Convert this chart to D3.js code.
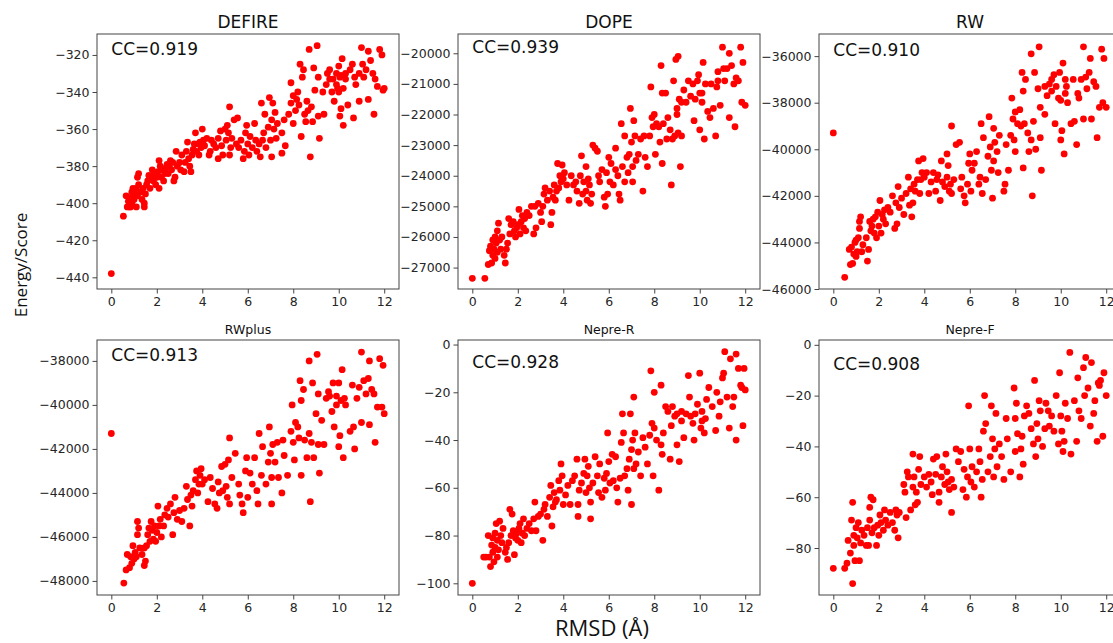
<!DOCTYPE html>
<html>
<head>
<meta charset="utf-8">
<script src="https://cdn.jsdelivr.net/npm/d3@7"></script>
<style>
  body { margin: 0; background: #fff; }
  .tick text { font-family: "DejaVu Sans", sans-serif; font-size: 12.5px; fill: #262626; }
  .tick line { stroke: #444; }
  .domain { stroke: none; }
</style>
</head>
<body>
<div id="chart"></div>
<script>
// RMSD (x) vs score (y) for each method
var defire = [[0,-438],[0.53,-407],[0.65,-396],[0.7,-402],[0.75,-399],[0.8,-402],[0.85,-397],[0.9,-394],[0.95,-392],[0.9,-400],[1.0,-398],[1.05,-395],[1.1,-402],[1.15,-396],[1.15,-386],[1.2,-384],[1.2,-390],[1.1,-392],[1.0,-393],[0.85,-402],[1.3,-394],[1.35,-398],[1.4,-392],[1.45,-400],[1.45,-402],[1.5,-395],[1.55,-390],[1.6,-388],[1.65,-385],[1.7,-392],[1.75,-386],[1.8,-382],[1.85,-388],[1.9,-384],[1.95,-390],[2.0,-386],[2.05,-383],[2.1,-377],[2.1,-392],[2.15,-380],[2.2,-386],[2.25,-382],[2.3,-388],[2.35,-384],[2.4,-381],[2.45,-379],[2.5,-384],[2.55,-380],[2.6,-377],[2.65,-382],[2.7,-378],[2.75,-388],[2.8,-386],[2.85,-372],[2.9,-380],[3.0,-378],[3.05,-382],[3.1,-374],[3.2,-383],[3.25,-378],[3.3,-372],[3.35,-367],[3.4,-376],[3.45,-380],[3.5,-383],[3.55,-374],[3.6,-371],[3.65,-368],[3.7,-362],[3.75,-372],[3.8,-368],[3.85,-374],[3.9,-367],[3.95,-370],[4.0,-360],[4.05,-366],[4.1,-369],[4.2,-365],[4.3,-374],[4.35,-372],[4.4,-366],[4.5,-368],[4.6,-370],[4.7,-376],[4.7,-365],[4.8,-361],[4.85,-369],[4.9,-374],[5.0,-360],[5.05,-366],[5.1,-358],[5.15,-362],[5.2,-348],[5.2,-374],[5.25,-370],[5.3,-365],[5.4,-355],[5.5,-368],[5.55,-354],[5.6,-370],[5.7,-366],[5.8,-376],[5.85,-372],[5.9,-362],[5.95,-358],[6.0,-368],[6.05,-374],[6.1,-364],[6.2,-370],[6.3,-357],[6.35,-366],[6.4,-372],[6.5,-368],[6.55,-375],[6.6,-346],[6.65,-366],[6.7,-362],[6.75,-352],[6.8,-370],[6.9,-359],[6.95,-343],[7.0,-366],[7.05,-375],[7.05,-355],[7.1,-346],[7.15,-360],[7.2,-351],[7.25,-365],[7.3,-357],[7.5,-373],[7.5,-362],[7.6,-355],[7.65,-369],[7.8,-352],[7.9,-335],[7.9,-346],[8.0,-342],[8.0,-357],[8.1,-350],[8.15,-344],[8.2,-340],[8.25,-347],[8.3,-325],[8.35,-364],[8.4,-332],[8.45,-328],[8.5,-352],[8.55,-356],[8.6,-345],[8.65,-350],[8.7,-317],[8.75,-375],[8.8,-348],[8.85,-356],[8.9,-327],[8.95,-339],[9.05,-315],[9.1,-353],[9.1,-332],[9.15,-365],[9.3,-340],[9.35,-352],[9.45,-336],[9.5,-330],[9.6,-328],[9.7,-340],[9.75,-333],[9.8,-345],[9.9,-330],[9.95,-338],[10.0,-326],[10.05,-332],[10.05,-353],[10.1,-349],[10.15,-322],[10.2,-338],[10.2,-358],[10.3,-333],[10.4,-347],[10.5,-328],[10.6,-325],[10.65,-354],[10.7,-332],[10.75,-336],[10.9,-345],[10.9,-330],[11.0,-316],[11.05,-325],[11.1,-332],[11.2,-328],[11.3,-344],[11.3,-318],[11.4,-323],[11.5,-330],[11.55,-352],[11.6,-333],[11.7,-337],[11.8,-317],[11.9,-320],[12.0,-338],[11.95,-339],[10.3,-330],[9.6,-333],[9.9,-336],[10.1,-331],[10.0,-340]];

var dope = [[0,-27350],[0.55,-27350],[0.7,-26900],[0.75,-26450],[0.8,-26300],[0.85,-26850],[0.9,-26600],[0.9,-26100],[0.95,-26400],[1.0,-26000],[1.0,-26700],[1.05,-26200],[1.1,-26500],[1.1,-25800],[1.15,-25550],[1.2,-26100],[1.25,-26400],[1.3,-26000],[1.4,-26600],[1.45,-26850],[1.5,-26400],[1.55,-26200],[1.6,-25400],[1.65,-25900],[1.7,-25600],[1.8,-25500],[1.85,-25800],[1.9,-26000],[1.95,-25700],[2.0,-25600],[2.05,-25100],[2.1,-25900],[2.15,-25500],[2.2,-25300],[2.25,-25700],[2.3,-25400],[2.35,-25800],[2.4,-25200],[2.5,-25300],[2.6,-25000],[2.7,-25900],[2.75,-25000],[2.8,-25700],[2.9,-24900],[3.0,-25200],[3.05,-25500],[3.1,-25000],[3.15,-24600],[3.2,-24400],[3.3,-24800],[3.4,-24500],[3.45,-25600],[3.5,-25200],[3.55,-24700],[3.6,-24300],[3.65,-24800],[3.7,-24500],[3.75,-23600],[3.8,-24400],[3.85,-24000],[3.9,-24200],[3.95,-23650],[4.0,-24100],[4.05,-23900],[4.15,-24300],[4.25,-24800],[4.35,-24000],[4.45,-24300],[4.55,-24200],[4.6,-24500],[4.7,-24900],[4.75,-24000],[4.8,-23350],[4.85,-24600],[4.9,-24200],[5.0,-23700],[5.0,-24500],[5.05,-24800],[5.1,-24100],[5.15,-24300],[5.2,-24900],[5.25,-24600],[5.3,-23000],[5.4,-23100],[5.5,-23200],[5.55,-24000],[5.6,-24200],[5.7,-23800],[5.8,-24700],[5.85,-25000],[5.9,-23900],[5.95,-24600],[6.0,-23400],[6.05,-24200],[6.1,-23600],[6.2,-24300],[6.3,-23800],[6.3,-23100],[6.4,-24000],[6.45,-24600],[6.5,-24800],[6.55,-22300],[6.6,-23700],[6.7,-22700],[6.7,-24200],[6.8,-23400],[6.85,-23900],[6.9,-23300],[6.95,-21800],[7.0,-22900],[7.05,-24200],[7.05,-23700],[7.1,-22200],[7.15,-22700],[7.2,-23500],[7.3,-23300],[7.4,-22800],[7.5,-24500],[7.55,-22700],[7.6,-23400],[7.7,-23700],[7.8,-22700],[7.85,-21100],[7.9,-22100],[7.95,-22400],[8.0,-22000],[8.05,-23300],[8.1,-22300],[8.2,-22400],[8.25,-22900],[8.3,-20400],[8.35,-21300],[8.35,-23600],[8.4,-22300],[8.5,-21300],[8.55,-22800],[8.6,-22100],[8.7,-22500],[8.75,-24300],[8.8,-22800],[8.85,-20900],[8.9,-22700],[8.95,-20200],[9.0,-21800],[9.05,-20100],[9.05,-22600],[9.1,-21500],[9.15,-23700],[9.2,-22700],[9.3,-21200],[9.4,-21600],[9.5,-20900],[9.6,-21400],[9.7,-21000],[9.75,-22200],[9.8,-21500],[9.9,-20900],[9.95,-20700],[10.0,-21300],[10.0,-22500],[10.1,-21600],[10.15,-20300],[10.2,-22800],[10.25,-21000],[10.35,-21900],[10.45,-22100],[10.5,-21000],[10.6,-21800],[10.7,-22700],[10.75,-21100],[10.8,-20600],[10.9,-21700],[11.0,-19800],[11.05,-20500],[11.1,-20900],[11.2,-20500],[11.3,-22100],[11.3,-20000],[11.4,-20400],[11.5,-21000],[11.55,-22400],[11.6,-20800],[11.7,-20900],[11.8,-19800],[11.85,-21600],[11.9,-20300],[12.0,-21700],[9.0,-22000],[9.2,-21600],[10.8,-20900],[10.1,-21300]];

var rw = [[0,-39300],[0.5,-45500],[0.7,-44300],[0.75,-44950],[0.8,-44200],[0.85,-44900],[0.9,-44500],[0.95,-44000],[1.0,-43900],[1.0,-44600],[1.05,-44400],[1.1,-43800],[1.15,-43100],[1.15,-43400],[1.2,-42900],[1.25,-44400],[1.3,-44100],[1.45,-43800],[1.5,-44800],[1.55,-44300],[1.6,-43100],[1.65,-43500],[1.7,-43300],[1.75,-43000],[1.8,-43600],[1.85,-42900],[1.9,-43800],[1.95,-42700],[2.0,-43300],[2.05,-42200],[2.1,-43600],[2.15,-42800],[2.2,-43000],[2.25,-42600],[2.3,-43200],[2.4,-42500],[2.5,-42700],[2.6,-42000],[2.7,-43400],[2.75,-42300],[2.8,-43200],[2.85,-41600],[2.9,-42500],[3.0,-42100],[3.1,-42800],[3.2,-41900],[3.3,-41200],[3.35,-42400],[3.4,-41700],[3.45,-42900],[3.5,-42300],[3.55,-41500],[3.6,-41800],[3.7,-41300],[3.75,-40500],[3.8,-41900],[3.85,-41300],[3.9,-41000],[3.95,-40400],[4.0,-41200],[4.1,-41000],[4.2,-41900],[4.3,-41400],[4.4,-41000],[4.5,-41800],[4.55,-41300],[4.6,-41100],[4.7,-42200],[4.75,-40500],[4.8,-41400],[4.9,-41600],[5.0,-40200],[5.0,-41200],[5.05,-40700],[5.1,-41800],[5.15,-41500],[5.2,-39000],[5.2,-41900],[5.3,-41300],[5.4,-39800],[5.55,-39700],[5.6,-41700],[5.65,-41200],[5.75,-42000],[5.8,-42300],[5.9,-41500],[5.95,-40600],[6.0,-40200],[6.05,-41800],[6.1,-40900],[6.2,-40600],[6.3,-40100],[6.4,-41500],[6.45,-41200],[6.5,-38900],[6.55,-41900],[6.6,-39500],[6.7,-41300],[6.8,-40300],[6.85,-38600],[6.9,-39900],[6.95,-40900],[7.0,-42100],[7.05,-39100],[7.05,-40500],[7.1,-39700],[7.2,-40100],[7.25,-41000],[7.3,-39400],[7.5,-41800],[7.55,-41500],[7.6,-39800],[7.7,-40900],[7.8,-39400],[7.85,-37800],[7.9,-38700],[7.95,-39600],[8.0,-40100],[8.0,-38400],[8.1,-38900],[8.2,-38300],[8.25,-39000],[8.3,-36700],[8.35,-40800],[8.35,-37500],[8.4,-38900],[8.45,-37000],[8.55,-39300],[8.6,-40100],[8.7,-39600],[8.7,-35900],[8.75,-42000],[8.8,-38800],[8.85,-36700],[8.9,-40000],[9.0,-37400],[9.05,-35600],[9.1,-38200],[9.1,-39500],[9.15,-40900],[9.3,-38500],[9.4,-37700],[9.5,-37200],[9.6,-37000],[9.7,-36800],[9.75,-38900],[9.8,-37300],[9.9,-37800],[9.95,-36700],[10.0,-39600],[10.05,-39200],[10.1,-36300],[10.15,-40200],[10.2,-37600],[10.25,-37300],[10.3,-38000],[10.45,-38900],[10.55,-37000],[10.6,-38800],[10.7,-39800],[10.75,-37600],[10.8,-37800],[10.9,-37000],[11.0,-35600],[11.0,-38700],[11.1,-36900],[11.15,-37400],[11.25,-36700],[11.35,-38700],[11.3,-36100],[11.45,-37100],[11.55,-37300],[11.6,-39500],[11.7,-38200],[11.8,-35700],[11.85,-38000],[11.9,-36100],[12.0,-38200],[10.0,-37900],[9.6,-37500],[10.2,-37000],[9.3,-37300]];

var rwplus = [[0,-41300],[0.55,-48100],[0.65,-47500],[0.7,-46800],[0.8,-47400],[0.85,-46900],[0.9,-47200],[0.95,-46400],[1.0,-47000],[1.05,-46700],[1.1,-46900],[1.15,-45300],[1.15,-45900],[1.2,-45600],[1.25,-46500],[1.35,-46800],[1.45,-47300],[1.45,-46500],[1.5,-47100],[1.55,-46400],[1.6,-45900],[1.65,-45600],[1.7,-46200],[1.75,-45300],[1.8,-45700],[1.85,-46100],[1.9,-45500],[1.95,-46200],[2.0,-45800],[2.05,-44600],[2.1,-45500],[2.15,-45200],[2.2,-46000],[2.3,-45500],[2.35,-45000],[2.45,-44700],[2.5,-45100],[2.6,-44500],[2.7,-45900],[2.75,-44900],[2.8,-44200],[2.9,-45200],[3.0,-44800],[3.1,-45300],[3.2,-44700],[3.3,-43700],[3.35,-44300],[3.45,-45500],[3.5,-44100],[3.55,-44600],[3.6,-43900],[3.7,-43400],[3.75,-43000],[3.8,-44000],[3.85,-43600],[3.9,-43200],[3.95,-42900],[4.0,-43600],[4.1,-43400],[4.25,-44400],[4.35,-43300],[4.45,-43800],[4.55,-44500],[4.65,-44700],[4.7,-43500],[4.75,-44000],[4.85,-42800],[4.9,-43900],[5.0,-42700],[5.05,-43700],[5.1,-44200],[5.15,-42500],[5.2,-41500],[5.2,-44500],[5.3,-43300],[5.45,-42200],[5.6,-43600],[5.65,-44100],[5.75,-44500],[5.8,-44900],[5.9,-43000],[5.95,-42400],[6.0,-44200],[6.1,-43100],[6.2,-43600],[6.3,-42400],[6.4,-43900],[6.45,-44500],[6.5,-41300],[6.6,-43200],[6.65,-41900],[6.8,-43600],[6.9,-42600],[6.95,-41000],[7.0,-42200],[7.05,-44500],[7.05,-43300],[7.1,-41800],[7.2,-42600],[7.3,-41700],[7.35,-43300],[7.5,-44000],[7.55,-41600],[7.6,-42300],[7.75,-43200],[7.9,-41200],[7.95,-40000],[8.0,-41700],[8.05,-42500],[8.1,-40800],[8.2,-41000],[8.25,-41500],[8.3,-38900],[8.35,-43200],[8.35,-39800],[8.45,-39300],[8.5,-41600],[8.6,-42400],[8.7,-41300],[8.7,-38000],[8.75,-44400],[8.8,-41700],[8.85,-39000],[8.9,-42400],[9.0,-40400],[9.05,-37700],[9.1,-41800],[9.1,-39500],[9.15,-43100],[9.25,-40700],[9.35,-41800],[9.45,-39700],[9.55,-39400],[9.7,-40300],[9.75,-39000],[9.8,-41000],[9.9,-39600],[10.0,-39000],[10.0,-41900],[10.05,-41400],[10.15,-38400],[10.2,-42400],[10.25,-39700],[10.3,-40000],[10.5,-41200],[10.6,-39100],[10.65,-41000],[10.7,-42000],[10.8,-39700],[10.9,-39200],[11.0,-37600],[11.0,-40800],[11.1,-38900],[11.2,-39500],[11.3,-38800],[11.35,-40900],[11.35,-38000],[11.45,-39300],[11.55,-39500],[11.6,-41700],[11.7,-40100],[11.8,-37900],[11.9,-40100],[11.95,-38200],[12.0,-40400],[9.6,-39600],[10.1,-39800],[9.9,-40000]];

var nepreR = [[0,-100],[0.5,-89],[0.6,-89],[0.7,-80],[0.75,-89],[0.8,-93],[0.85,-84],[0.9,-81],[0.9,-87],[0.95,-91],[1.0,-79],[1.0,-85],[1.05,-75],[1.1,-82],[1.1,-89],[1.15,-86],[1.2,-74],[1.25,-80],[1.3,-83],[1.35,-77],[1.45,-87],[1.5,-85],[1.55,-90],[1.6,-83],[1.65,-69],[1.7,-80],[1.75,-71],[1.8,-78],[1.85,-88],[1.9,-81],[1.95,-79],[2.0,-82],[2.05,-77],[2.1,-75],[2.15,-83],[2.2,-79],[2.25,-73],[2.3,-80],[2.4,-77],[2.5,-75],[2.6,-78],[2.7,-73],[2.75,-66],[2.8,-78],[2.9,-72],[3.0,-71],[3.1,-82],[3.15,-69],[3.2,-67],[3.3,-72],[3.4,-64],[3.45,-59],[3.5,-76],[3.55,-68],[3.6,-62],[3.65,-66],[3.7,-65],[3.8,-57],[3.85,-61],[3.9,-50],[3.95,-55],[4.0,-67],[4.1,-63],[4.2,-59],[4.3,-67],[4.4,-57],[4.5,-55],[4.6,-48],[4.65,-67],[4.65,-72],[4.7,-61],[4.8,-58],[4.9,-54],[4.95,-48],[5.0,-62],[5.05,-55],[5.1,-51],[5.15,-60],[5.2,-73],[5.2,-66],[5.3,-58],[5.4,-47],[5.5,-55],[5.55,-62],[5.6,-50],[5.7,-64],[5.8,-56],[5.85,-61],[5.9,-54],[5.95,-37],[6.0,-49],[6.05,-58],[6.15,-46],[6.2,-57],[6.3,-47],[6.35,-60],[6.4,-66],[6.5,-56],[6.55,-41],[6.6,-29],[6.65,-37],[6.7,-55],[6.8,-52],[6.85,-61],[6.9,-48],[6.95,-29],[7.0,-67],[7.0,-44],[7.05,-40],[7.1,-22],[7.1,-52],[7.15,-37],[7.2,-50],[7.3,-45],[7.4,-55],[7.5,-39],[7.6,-43],[7.7,-50],[7.8,-38],[7.85,-11],[7.9,-33],[7.95,-55],[8.0,-20],[8.0,-35],[8.1,-40],[8.2,-61],[8.3,-17],[8.3,-42],[8.35,-46],[8.4,-37],[8.5,-26],[8.6,-28],[8.7,-48],[8.75,-34],[8.8,-26],[8.9,-30],[9.0,-42],[9.0,-29],[9.1,-49],[9.2,-32],[9.3,-39],[9.4,-29],[9.5,-13],[9.55,-22],[9.7,-33],[9.75,-40],[9.8,-29],[9.9,-25],[10.0,-12],[10.05,-35],[10.1,-28],[10.2,-37],[10.25,-31],[10.3,-23],[10.4,-18],[10.55,-26],[10.7,-36],[10.75,-20],[10.85,-30],[10.9,-24],[11.0,-14],[11.05,-12],[11.1,-3],[11.2,-22],[11.3,-35],[11.35,-6],[11.45,-26],[11.5,-22],[11.6,-40],[11.6,-4],[11.7,-10],[11.8,-17],[11.9,-34],[11.95,-10],[12.0,-19],[11.85,-18],[10.1,-32],[9.6,-30],[9.2,-28]];

var nepreF = [[0,-88],[0.5,-88],[0.6,-86],[0.65,-77],[0.75,-82],[0.8,-69],[0.85,-62],[0.85,-94],[0.9,-79],[0.9,-75],[0.95,-85],[1.0,-72],[1.05,-76],[1.1,-70],[1.15,-85],[1.2,-78],[1.25,-73],[1.35,-75],[1.45,-79],[1.5,-72],[1.55,-79],[1.6,-69],[1.6,-64],[1.65,-60],[1.7,-74],[1.75,-61],[1.8,-72],[1.9,-79],[1.95,-71],[2.0,-75],[2.05,-67],[2.1,-70],[2.2,-73],[2.25,-65],[2.3,-69],[2.4,-71],[2.5,-66],[2.6,-70],[2.7,-73],[2.75,-65],[2.8,-67],[2.85,-76],[2.9,-66],[3.1,-55],[3.15,-58],[3.2,-68],[3.25,-50],[3.3,-52],[3.4,-65],[3.5,-56],[3.5,-43],[3.55,-52],[3.6,-63],[3.65,-58],[3.7,-62],[3.75,-49],[3.8,-44],[3.85,-55],[4.0,-52],[4.1,-56],[4.2,-51],[4.3,-54],[4.35,-59],[4.4,-45],[4.5,-51],[4.55,-44],[4.65,-62],[4.65,-58],[4.75,-52],[4.8,-48],[4.9,-55],[4.95,-43],[5.0,-50],[5.05,-54],[5.1,-57],[5.2,-66],[5.2,-53],[5.3,-56],[5.4,-41],[5.5,-46],[5.6,-42],[5.7,-57],[5.75,-49],[5.85,-60],[5.9,-52],[5.95,-24],[6.0,-41],[6.05,-54],[6.1,-48],[6.2,-56],[6.3,-50],[6.4,-41],[6.45,-46],[6.5,-60],[6.55,-53],[6.6,-34],[6.65,-20],[6.7,-31],[6.8,-50],[6.9,-44],[6.95,-24],[7.0,-37],[7.05,-52],[7.1,-41],[7.15,-27],[7.2,-48],[7.3,-39],[7.4,-44],[7.5,-53],[7.6,-29],[7.65,-37],[7.8,-50],[7.95,-17],[8.0,-29],[8.0,-42],[8.05,-23],[8.1,-35],[8.2,-52],[8.25,-41],[8.3,-36],[8.35,-47],[8.4,-28],[8.5,-24],[8.6,-27],[8.7,-33],[8.8,-39],[8.85,-14],[8.9,-44],[8.95,-31],[9.0,-37],[9.05,-22],[9.1,-26],[9.2,-40],[9.3,-33],[9.35,-23],[9.45,-26],[9.5,-32],[9.6,-28],[9.7,-34],[9.8,-20],[9.9,-39],[9.95,-11],[10.0,-28],[10.05,-34],[10.1,-42],[10.15,-38],[10.2,-23],[10.3,-29],[10.4,-3],[10.45,-43],[10.6,-22],[10.7,-38],[10.75,-13],[10.8,-26],[10.9,-29],[11.0,-9],[11.05,-20],[11.1,-5],[11.2,-17],[11.3,-32],[11.35,-7],[11.45,-27],[11.5,-22],[11.6,-38],[11.65,-15],[11.75,-14],[11.85,-36],[11.9,-11],[12.0,-20],[11.7,-16]];

var titles = ["DEFIRE", "DOPE", "RW", "RWplus", "Nepre-R", "Nepre-F"];
var ccValues = ["0.919", "0.939", "0.910", "0.913", "0.928", "0.908"];
var xTicks = [0, 2, 4, 6, 8, 10, 12];
var yTicks = [
  [-440, -420, -400, -380, -360, -340, -320],
  [-27000, -26000, -25000, -24000, -23000, -22000, -21000, -20000],
  [-46000, -44000, -42000, -40000, -38000, -36000],
  [-48000, -46000, -44000, -42000, -40000, -38000],
  [-100, -80, -60, -40, -20, 0],
  [-80, -60, -40, -20, 0]
];
var allData = [defire, dope, rw, rwplus, nepreR, nepreF];

// layout / scale settings
var W = 1113, H = 643;
var colLeft = [97, 458, 819], rowTop = [34, 340];
var pw = 302, ph = 255;
var xDomain = [-0.63, 12.65];
var yDomains = [[-446.3, -308.7], [-27700, -19370], [-46000, -35050],
                [-48640, -37050], [-104.9, 1.9], [-98.5, 1.9]];
var ccAnchorY = [-320, -20000, -36000, -38000, -10, -10];

var svg = d3.select("#chart").append("svg")
  .attr("width", W).attr("height", H)
  .style("font-family", "'DejaVu Sans', sans-serif");

allData.forEach(function (data, i) {
  var left = colLeft[i % 3], top = rowTop[Math.floor(i / 3)];
  var x = d3.scaleLinear().domain(xDomain).range([0, pw]);
  var y = d3.scaleLinear().domain(yDomains[i]).range([ph, 0]);

  var g = svg.append("g").attr("transform", "translate(" + left + "," + top + ")");

  g.append("g")
    .attr("transform", "translate(0," + ph + ")")
    .call(d3.axisBottom(x).tickValues(xTicks).tickSize(4.5).tickPadding(4).tickFormat(d3.format("d")));

  g.append("g")
    .call(d3.axisLeft(y).tickValues(yTicks[i]).tickSize(4.5).tickPadding(3).tickFormat(d3.format("d")));

  g.append("g").selectAll("circle")
    .data(data)
    .join("circle")
    .attr("cx", d => x(d[0]))
    .attr("cy", d => y(d[1]))
    .attr("r", 3.4)
    .attr("fill", "#ff0000");

  g.append("rect")
    .attr("width", pw).attr("height", ph)
    .attr("fill", "none").attr("stroke", "#444").attr("stroke-width", 1);

  g.append("text")
    .attr("x", x(0)).attr("y", y(ccAnchorY[i]))
    .attr("font-size", 17)
    .attr("fill", "#111")
    .text("CC=" + ccValues[i]);

  g.append("text")
    .attr("x", pw / 2).attr("y", -6)
    .attr("text-anchor", "middle")
    .attr("font-size", i < 3 ? 17 : 12.5)
    .attr("fill", "#111")
    .text(titles[i]);
});

svg.append("text")
  .attr("transform", "translate(27,265) rotate(-90)")
  .attr("text-anchor", "middle")
  .attr("font-family", "'Open Sans', sans-serif")
  .attr("font-size", 17)
  .attr("fill", "#111")
  .text("Energy/Score");

svg.append("text")
  .attr("x", 602).attr("y", 636)
  .attr("text-anchor", "middle")
  .attr("font-family", "'Open Sans', sans-serif")
  .attr("font-size", 22)
  .attr("fill", "#111")
  .text("RMSD (Å)");
</script>
</body>
</html>
